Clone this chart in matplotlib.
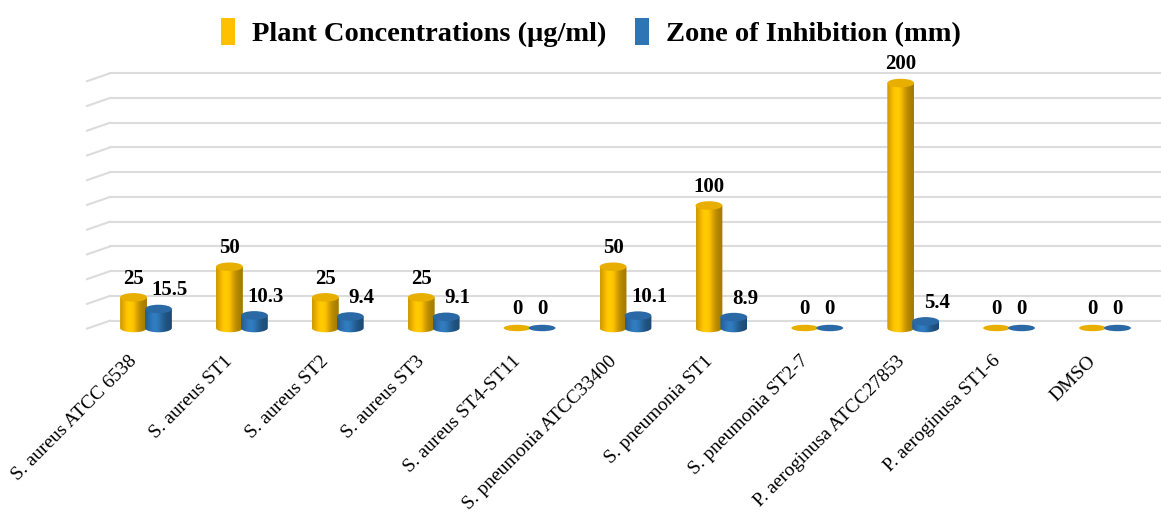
import numpy as np
import matplotlib
matplotlib.use("Agg")
import matplotlib.pyplot as plt
from matplotlib.patches import Ellipse, Patch
from matplotlib.path import Path
from matplotlib.colors import to_rgb

# data
strains = ["S. aureus ATCC 6538", "S. aureus ST1", "S. aureus ST2", "S. aureus ST3",
           "S. aureus ST4-ST11", "S. pneumonia ATCC33400", "S. pneumonia ST1",
           "S. pneumonia ST2-7", "P. aeroginusa ATCC27853", "P. aeroginusa ST1-6", "DMSO"]
plant_conc = [25, 50, 25, 25, 0, 50, 100, 0, 200, 0, 0]
zone_inhib = [15.5, 10.3, 9.4, 9.1, 0, 10.1, 8.9, 0, 5.4, 0, 0]
plant_labels = ["25", "50", "25", "25", "0", "50", "100", "0", "200", "0", "0"]
zone_labels = ["15.5", "10.3", "9.4", "9.1", "0", "10.1", "8.9", "0", "5.4", "0", "0"]
grid_ticks = np.arange(0, 201, 20)

yellow = "#FFC000"
blue = "#2E75B6"

plt.rcParams['font.family'] = ['Liberation Serif', 'DejaVu Serif']

fig = plt.figure(figsize=(11.61, 5.16), dpi=100)
ax = fig.add_axes([0, 0, 1, 1])
ax.axis("off")

XL = (-1.5224, 10.584)
YL = (-153.5, 267.8)


def shade(color, n=64):
    # horizontal shading so the bar reads like a cylinder
    t = np.linspace(0, 1, n)
    f = 0.74 + 0.36 * np.exp(-((t - 0.38) / 0.3) ** 2) - 0.1 * t
    c = np.array(to_rgb(color))
    img = np.clip(c[None, :] * f[:, None], 0, 1)
    return img[None, :, :]


def cylinder(xc, val, color, top_color, w=0.28, eh=7.0):
    x0, x1 = xc - w / 2, xc + w / 2
    if val > 0:
        th = np.linspace(0, np.pi, 40)
        arc_x = xc + (w / 2) * np.cos(th)
        arc_y = -(eh / 2) * np.sin(th)
        verts = [(x0, val), (x1, val)] + list(zip(arc_x, arc_y)) + [(x0, val)]
        clip = Path(verts, closed=True)
        im = ax.imshow(shade(color), extent=[x0, x1, -eh, val], aspect="auto",
                       interpolation="bilinear", zorder=3)
        im.set_clip_path(clip, transform=ax.transData)
        ax.add_patch(Ellipse((xc, val), w, eh, facecolor=top_color,
                             edgecolor="none", zorder=4))
    else:
        ax.add_patch(Ellipse((xc, 0), w, eh * 0.75, facecolor=top_color,
                             edgecolor="none", zorder=4))


# back wall gridlines with a short slanted side wall
for g in grid_ticks:
    gy = g * 1.01 + 6
    ax.plot([-0.375, XL[1]], [gy, gy], color="#DCDCDC", lw=1.5, zorder=1)
    ax.plot([-0.615, -0.375], [gy - 6.5, gy], color="#DCDCDC", lw=1.5, zorder=1)

for i in range(len(strains)):
    xa = i - 0.13
    xb = i + 0.13
    cylinder(xa, plant_conc[i], yellow, "#E8AE00")
    cylinder(xb, zone_inhib[i], blue, "#2A69A6")
    ax.text(xa, plant_conc[i] + 7, plant_labels[i], ha="center", va="bottom",
            fontsize=15, fontweight="bold", zorder=5)
    dx = 0.12 if zone_inhib[i] > 0 else 0.0
    ax.text(xb + dx, zone_inhib[i] + 7, zone_labels[i], ha="center", va="bottom",
            fontsize=15, fontweight="bold", zorder=5)
    ax.text(i - 0.12, -25, strains[i], rotation=45, rotation_mode="anchor",
            ha="right", va="center", fontsize=14)

ax.set_xlim(*XL)
ax.set_ylim(*YL)

handles = [Patch(facecolor=yellow, edgecolor="none", label="Plant Concentrations (μg/ml)"),
           Patch(facecolor=blue, edgecolor="none", label="Zone of Inhibition (mm)")]
fig.legend(handles=handles, loc="upper center", bbox_to_anchor=(0.509, 1.015), ncol=2,
           frameon=False, prop={"size": 20.5, "weight": "bold"},
           handlelength=0.5, handleheight=1.1, handletextpad=0.6, columnspacing=1.0)

fig.savefig("out.png", dpi=100)
